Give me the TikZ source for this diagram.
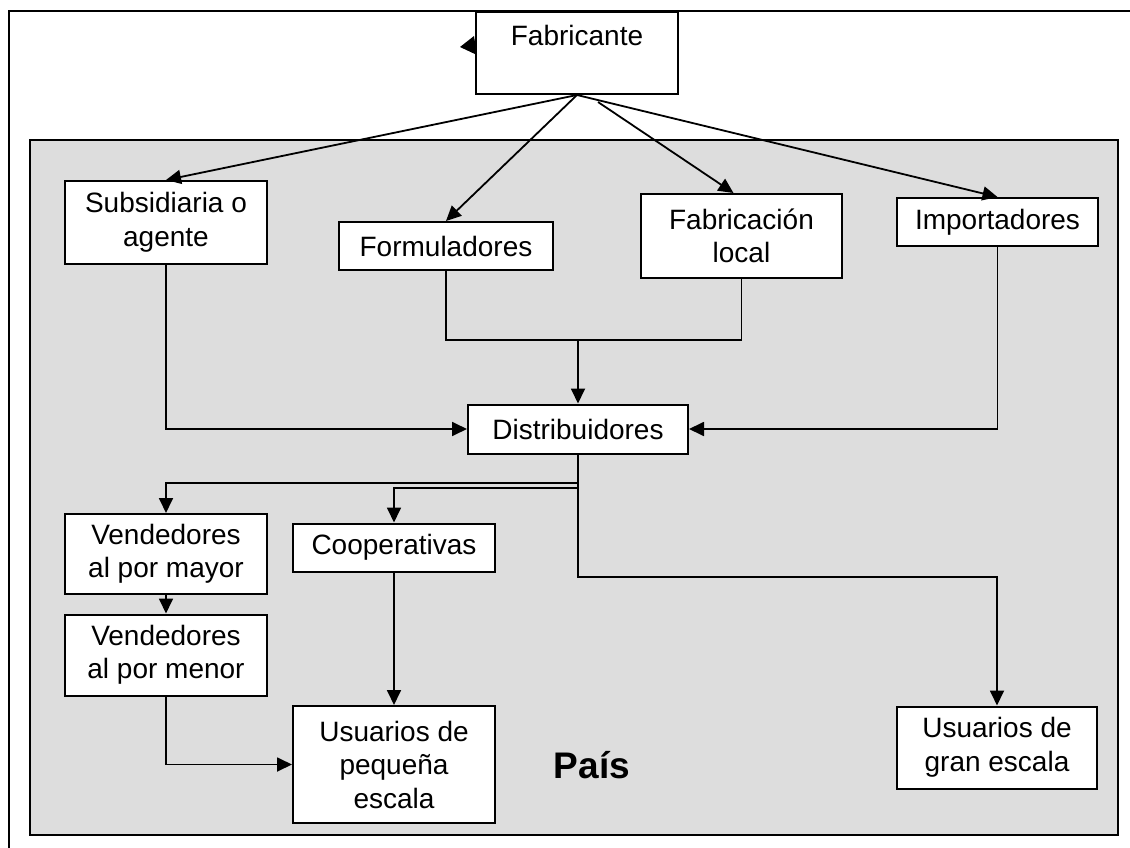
\documentclass[tikz,border=0pt]{standalone}
\usepackage{fontspec}
\setmainfont{Liberation Sans}
\usetikzlibrary{arrows.meta}
\begin{document}
\begin{tikzpicture}[x=1pt,y=-1pt,
  box/.style={draw, line width=2pt, fill=white, inner sep=0pt, align=center,
    font=\fontsize{28}{33.5}\selectfont},
  conn/.style={line width=1.8pt},
  arr/.style={conn, -{Triangle[length=15pt,width=14pt]}}]
\useasboundingbox (0,0) rectangle (1130,848);
% outer frame and country area
\draw[line width=2pt] (9,11) rectangle (1145,865);
\draw[line width=2.2pt, fill={rgb,255:red,221;green,221;blue,221}] (30,140) rectangle (1118,835);
\node[font=\fontsize{37}{44}\selectfont\bfseries] (pais) at (592,765) {País};
% nodes
\node[box, minimum width=202pt, minimum height=82pt, text height=34pt, text depth=48pt] (fab) at (577,53) {Fabricante};
\node[box, minimum width=202pt, minimum height=83pt] (sub) at (166,222.5) {Subsidiaria o\\agente};
\node[box, minimum width=214pt, minimum height=48pt] (form) at (446,246) {Formuladores};
\node[box, minimum width=201pt, minimum height=84pt] (fabl) at (741.5,236) {Fabricación\\local};
\node[box, minimum width=201pt, minimum height=48pt] (imp) at (997.5,222) {Importadores};
\node[box, minimum width=220pt, minimum height=49pt] (dist) at (578,429) {Distribuidores};
\node[box, minimum width=202pt, minimum height=80pt] (vmay) at (166,554) {Vendedores\\al por mayor};
\node[box, minimum width=202pt, minimum height=81pt] (vmen) at (166,655) {Vendedores\\al por menor};
\node[box, minimum width=202pt, minimum height=48pt] (coop) at (394,547.5) {Cooperativas};
\node[box, minimum width=202pt, minimum height=117pt] (upeq) at (394,764.5) {Usuarios de\\pequeña\\escala};
\node[box, minimum width=200pt, minimum height=82pt] (ugran) at (997,747.5) {Usuarios de\\gran escala};
% stray arrowhead at Fabricante
\fill (474,36) -- (460,47) -- (477,55) -- cycle;
% connectors from Fabricante
\coordinate (fls) at (598,102);
\draw[arr] (fab.south) -- (sub.north);
\draw[arr] (fab.south) -- (form.north);
\draw[arr] (fls) -- ([xshift=-8pt]fabl.north);
\draw[arr] (fab.south) -- (imp.north);
% to Distribuidores
\coordinate (join) at (578,340);
\draw[arr] (sub.south) |- (dist.west);
\draw[arr] (imp.south) |- (dist.east);
\draw[conn] (form.south) |- (join) -| (fabl.south);
\draw[arr] (join) -- (dist.north);
% from Distribuidores
\coordinate (b1) at (578,483);
\coordinate (b2) at (578,488);
\coordinate (b3) at (578,577);
\draw[arr] (dist.south) -- (b3) -| (ugran.north);
\draw[arr] (b1) -| (vmay.north);
\draw[arr] (b2) -| (coop.north);
\draw[arr] (vmay.south) -- (vmen.north);
\draw[arr] (vmen.south) |- (upeq.west);
\draw[arr] (coop.south) -- (upeq.north);
\end{tikzpicture}
\end{document}
